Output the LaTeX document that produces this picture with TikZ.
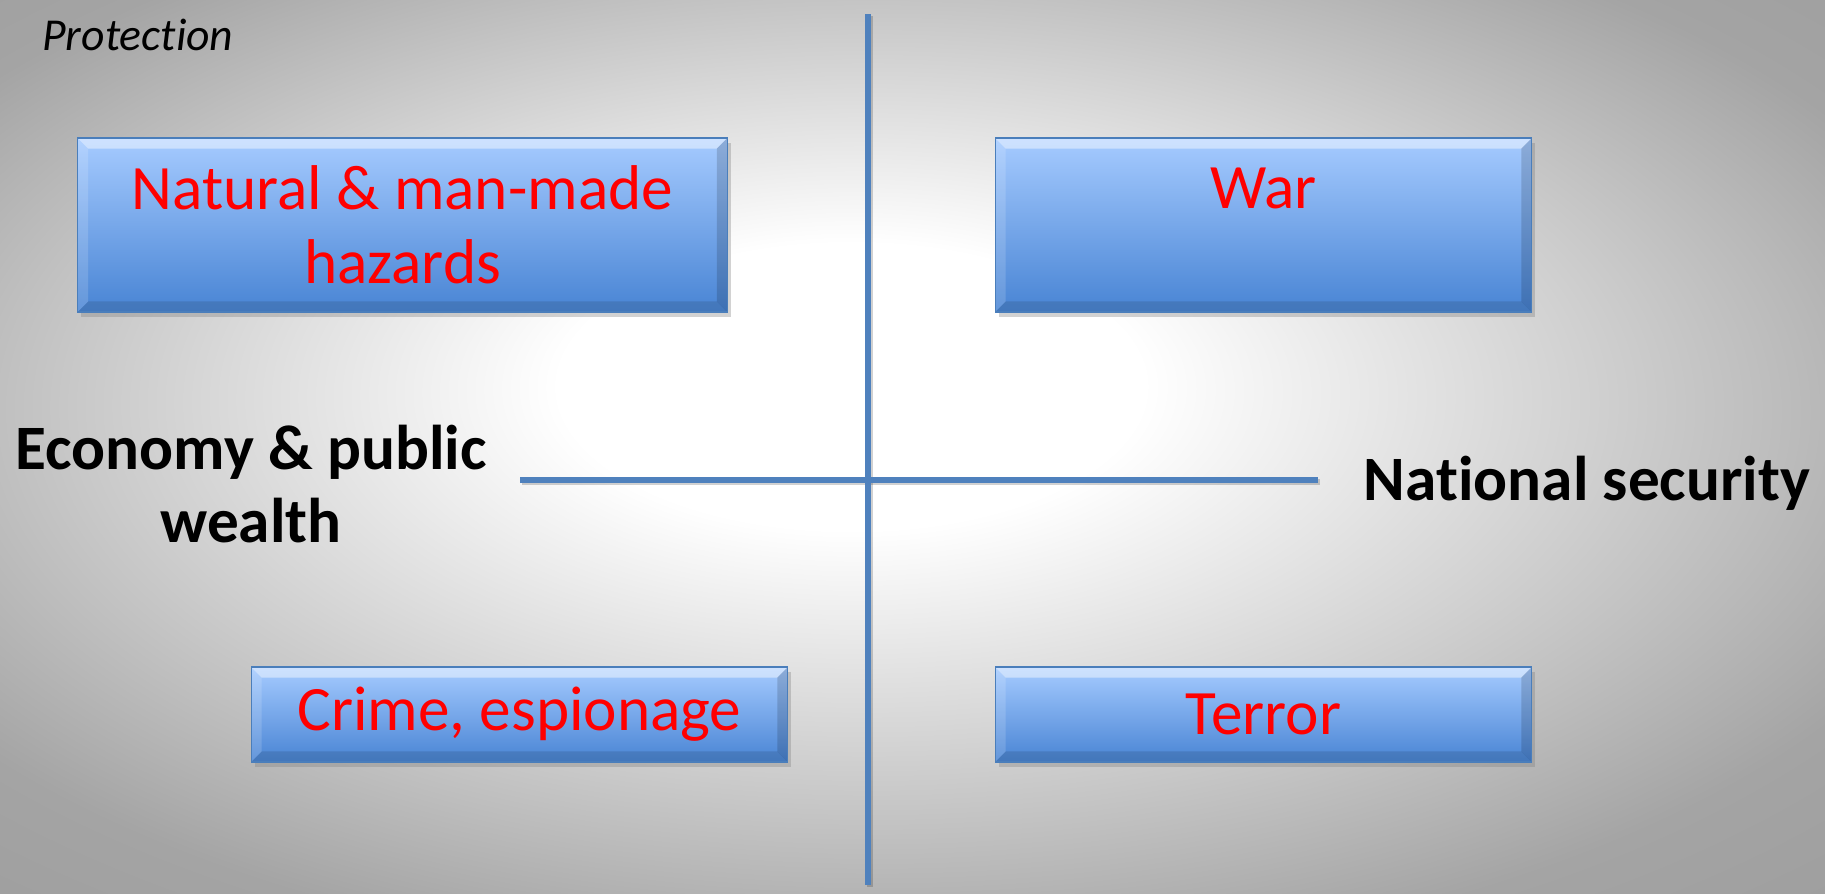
\documentclass[tikz,border=0pt]{standalone}
\usepackage{fontspec}
\setmainfont{Carlito}
\usetikzlibrary{shadows}
\definecolor{boxtop}{HTML}{A6CBFF}
\definecolor{boxbot}{HTML}{4884D4}
\definecolor{boxedge}{HTML}{4A7EBB}
\definecolor{lineblue}{HTML}{4F81BD}
\definecolor{bggray}{HTML}{A4A4A4}
\pgfdeclareradialshading{bgshade}{\pgfpoint{-2bp}{4bp}}{color(0bp)=(white); color(8bp)=(white); color(31bp)=(bggray); color(50bp)=(bggray!90!black)}
\newcommand{\nolig}{\kern0pt}
\tikzset{
  threat/.style={rectangle, top color=boxtop, bottom color=boxbot, draw=boxedge, line width=0.6pt,
    drop shadow={shadow xshift=2pt, shadow yshift=-3pt, opacity=.35},
    text=red, align=center, font=\fontsize{36}{42}\selectfont, bevel},
  bevel/.style={path picture={
    \path (path picture bounding box.north west) coordinate (bnw)
          (path picture bounding box.north east) coordinate (bne)
          (path picture bounding box.south west) coordinate (bsw)
          (path picture bounding box.south east) coordinate (bse);
    \fill[white,opacity=.45] (bnw) -- (bne) -- ([shift={(-6pt,-6pt)}]bne) -- ([shift={(6pt,-6pt)}]bnw) -- cycle;
    \fill[boxedge!70!black,opacity=.3] (bsw) -- (bse) -- ([shift={(-6pt,6pt)}]bse) -- ([shift={(6pt,6pt)}]bsw) -- cycle;
    \fill[white,opacity=.15] (bnw) -- ([shift={(6pt,-6pt)}]bnw) -- ([shift={(6pt,6pt)}]bsw) -- (bsw) -- cycle;
    \fill[black,opacity=.15] (bne) -- ([shift={(-6pt,-6pt)}]bne) -- ([shift={(-6pt,6pt)}]bse) -- (bse) -- cycle;
  }},
  axislabel/.style={align=center, font=\bfseries\fontsize{36}{42}\selectfont},
  axisline/.style={draw=lineblue, line width=2.9pt},
  axisshadow/.style={draw=black, opacity=.18, line width=3pt, transform canvas={shift={(1.2pt,-1.2pt)}}}
}

\begin{document}
\begin{tikzpicture}[x=0.02cm, y=-0.02cm]
  \useasboundingbox (0,0) rectangle (1825,893);
  \shade[shading=bgshade] (0,0) rectangle (1825,893);

  % axes
  \coordinate (vtop) at (868,14);
  \coordinate (vbot) at (868,885);
  \coordinate (hleft) at (520,480);
  \coordinate (hright) at (1318,480);
  \draw[axisshadow] (vtop) -- (vbot);
  \draw[axisshadow] (hleft) -- (hright);
  \draw[axisline] (vtop) -- (vbot);
  \draw[axisline] (hleft) -- (hright);

  \node[anchor=west, inner sep=0, font=\itshape\fontsize{26}{30}\selectfont] (prot) at (42,35) {Protect\nolig ion};

  % quadrants
  \node[threat, minimum width=13cm, minimum height=3.48cm] (hazards) at (402.5,225) {Natural \& man-made\\hazards};
  \node[threat, minimum width=10.74cm, minimum height=3.48cm] (war) at (1263.5,225) {War\\\mbox{}};
  \node[threat, minimum width=10.74cm, minimum height=1.9cm] (crime) at (519.5,714.5) {Crime, espionage};
  \node[threat, minimum width=10.74cm, minimum height=1.9cm] (terror) at (1263.5,714.5) {Terror};

  \node[axislabel] (econ) at (251,484) {Economy \& public\\wealth};
  \node[axislabel] (natsec) at (1587,483) {Nat\nolig ional security};
\end{tikzpicture}
\end{document}
